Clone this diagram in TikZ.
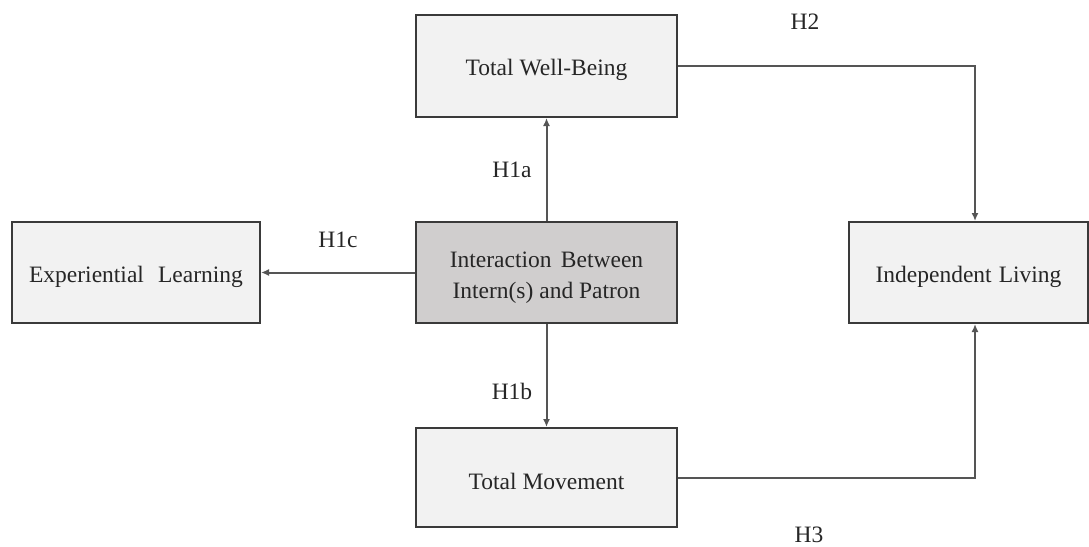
\documentclass[tikz,border=0pt]{standalone}
\usepackage{fontspec}
\setmainfont{Liberation Serif}
\usetikzlibrary{arrows.meta,calc}
\definecolor{boxfill}{HTML}{F2F2F2}
\definecolor{darkfill}{HTML}{D0CECE}
\definecolor{edgecol}{HTML}{3A3A3A}
\definecolor{linecol}{HTML}{555555}
\newcommand{\lowtext}[1]{\raisebox{-4pt}[\height][\depth]{#1}}
\begin{document}
\begin{tikzpicture}[x=1pt,y=-1pt,
  box/.style={draw=edgecol,line width=2pt,fill=boxfill,rectangle,inner sep=0pt,
    font=\fontsize{23.5}{31}\selectfont,align=center,text=black!85},
  lbl/.style={font=\fontsize{23.5}{26}\selectfont,text=black!85},
  conn/.style={draw=linecol,line width=2pt,-{Latex[length=8pt,width=7pt]}}]
\useasboundingbox (0,0) rectangle (1089,546);
\node[box,minimum width=261pt,minimum height=102pt] (wb) at (546.5,66) {\lowtext{Total Well-Being}};
\node[box,fill=darkfill,minimum width=261pt,minimum height=101pt] (int) at (546.5,272.5) {\lowtext{\begin{tabular}{@{}c@{}}Interaction\hspace{0.4em}Between\\Intern(s) and Patron\end{tabular}}};
\node[box,minimum width=261pt,minimum height=99pt] (mov) at (546.5,477.5) {\lowtext{Total Movement}};
\node[box,minimum width=248pt,minimum height=101pt] (exp) at (136,272.5) {\lowtext{Experiential\hspace{0.6em}Learning}};
\node[box,minimum width=239pt,minimum height=101pt] (ind) at (968.5,272.5) {\lowtext{Independent\hspace{0.3em}Living}};
\coordinate (c1) at (975,66);
\coordinate (c2) at (975,477.5);
\draw[conn] (int.north) -- (wb.south);
\draw[conn] (int.south) -- (mov.north);
\draw[conn] (int.west) -- (exp.east);
\draw[conn] (wb.east) -- (c1) -- (c1 |- ind.north);
\draw[conn] (mov.east) -- (c2) -- (c2 |- ind.south);
\node[lbl] (h2) at (805,22) {H2};
\node[lbl] (h1a) at (512,170) {H1a};
\node[lbl] (h1c) at (338,240) {H1c};
\node[lbl] (h1b) at (512,391) {H1b};
\node[lbl] (h3) at (809,535) {H3};
\end{tikzpicture}
\end{document}
